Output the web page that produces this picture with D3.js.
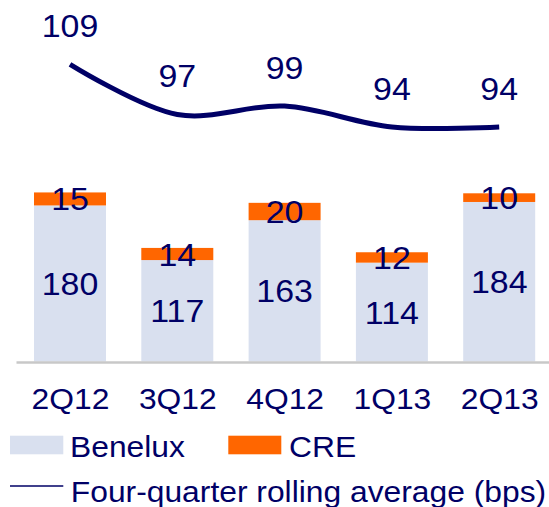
<!DOCTYPE html>
<html>
<head>
<meta charset="utf-8">
<script src="https://cdn.jsdelivr.net/npm/d3@7"></script>
<style>
  html, body { margin: 0; padding: 0; background: #fff; }
  svg { display: block; font-family: "Liberation Sans", Arial, sans-serif; }
</style>
</head>
<body>
<svg id="chart" width="549" height="507"></svg>
<script>
// Quarterly impairments, bps
const quarters = ["2Q12", "3Q12", "4Q12", "1Q13", "2Q13"];
const benelux = [180, 117, 163, 114, 184];
const cre = [15, 14, 20, 12, 10];
const rollingAvg = [109, 97, 99, 94, 94];

const navy = "#000066";
const beneluxColor = "#d9e0ef";
const creColor = "#ff6600";
const stretch = 1.06;   // slightly widened lettering

const svg = d3.select("#chart");
const baseline = 361.5;

const x = d3.scalePoint().domain(quarters).range([70, 499.2]);
const barWidth = x.step() * 0.671;

const y = d3.scaleLinear().domain([0, 200]).range([baseline, baseline - 173.4]);
const yLine = d3.scaleLinear().domain([94, 109]).range([127, 64.3]);

const rows = quarters.map((q, i) => ({ q, benelux: benelux[i], cre: cre[i], avg: rollingAvg[i] }));

// Place text with a horizontal stretch around its anchor point
function placeText(sel, fx, fy) {
  return sel.attr("x", 0).attr("y", 0)
    .attr("transform", (d, i) => `translate(${fx(d, i)},${fy(d, i)}) scale(${stretch},1)`);
}

// Stacked bars
const bars = svg.append("g");
bars.selectAll("rect.benelux").data(rows).join("rect")
  .attr("class", "benelux")
  .attr("x", d => x(d.q) - barWidth / 2)
  .attr("width", barWidth)
  .attr("y", d => y(d.benelux))
  .attr("height", d => y(0) - y(d.benelux))
  .attr("fill", beneluxColor);
bars.selectAll("rect.cre").data(rows).join("rect")
  .attr("class", "cre")
  .attr("x", d => x(d.q) - barWidth / 2)
  .attr("width", barWidth)
  .attr("y", d => y(d.benelux + d.cre))
  .attr("height", d => y(d.benelux) - y(d.benelux + d.cre))
  .attr("fill", creColor);

// Segment value labels
const labelSize = 32;
bars.selectAll("text.bl").data(rows).join("text")
  .attr("class", "bl")
  .call(placeText, d => x(d.q), d => (y(d.benelux) + y(0)) / 2)
  .attr("dy", "0.36em")
  .attr("text-anchor", "middle")
  .attr("font-size", labelSize)
  .attr("fill", navy)
  .text(d => d.benelux);
bars.selectAll("text.cl").data(rows).join("text")
  .attr("class", "cl")
  .call(placeText, d => x(d.q), d => (y(d.benelux) + y(d.benelux + d.cre)) / 2)
  .attr("dy", "0.36em")
  .attr("text-anchor", "middle")
  .attr("font-size", labelSize)
  .attr("fill", navy)
  .text(d => d.cre);

// Baseline
svg.append("line")
  .attr("x1", 16.5).attr("x2", 549)
  .attr("y1", baseline + 1).attr("y2", baseline + 1)
  .attr("stroke", "#c8c8c8").attr("stroke-width", 2.5);

// Category axis
const xAxis = d3.axisBottom(x).tickSize(0).tickPadding(0);
const axisG = svg.append("g").attr("transform", "translate(0, 409)").call(xAxis);
axisG.select(".domain").remove();
axisG.selectAll("text")
  .attr("y", 0).attr("dy", 0)
  .attr("transform", `scale(${stretch},1)`)
  .attr("font-size", 30)
  .attr("font-family", "'Liberation Sans', Arial, sans-serif")
  .attr("fill", navy);

// Rolling average line
const line = d3.line().x(d => x(d.q)).y(d => yLine(d.avg)).curve(d3.curveCatmullRom.alpha(0.5));
svg.append("path")
  .datum(rows)
  .attr("d", line)
  .attr("fill", "none")
  .attr("stroke", navy)
  .attr("stroke-width", 5);

svg.selectAll("text.avg").data(rows).join("text")
  .attr("class", "avg")
  .call(placeText, d => x(d.q), d => yLine(d.avg) - 27)
  .attr("text-anchor", "middle")
  .attr("font-size", labelSize)
  .attr("fill", navy)
  .text(d => d.avg);

// Legend
const legend = svg.append("g");
const legendItems = [
  { label: "Benelux", tx: 70, ty: 457.3 },
  { label: "CRE", tx: 289, ty: 457.3 },
  { label: "Four-quarter rolling average (bps)", tx: 70.8, ty: 501.7 }
];
legend.append("rect").attr("x", 10).attr("y", 435.7).attr("width", 53.3).attr("height", 18.6).attr("fill", beneluxColor);
legend.append("rect").attr("x", 228.3).attr("y", 435.7).attr("width", 53).attr("height", 18.6).attr("fill", creColor);
legend.append("line").attr("x1", 10).attr("x2", 63.3).attr("y1", 486).attr("y2", 486).attr("stroke", navy).attr("stroke-width", 1.5);
legend.selectAll("text").data(legendItems).join("text")
  .call(placeText, d => d.tx, d => d.ty)
  .attr("font-size", 30)
  .attr("fill", navy)
  .text(d => d.label);
</script>
</body>
</html>
